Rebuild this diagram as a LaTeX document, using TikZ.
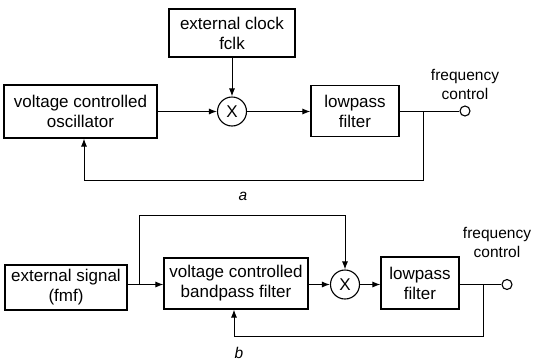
\documentclass[tikz,border=0pt]{standalone}
\usepackage{fontspec}
\setmainfont{Liberation Sans}
\usetikzlibrary{arrows.meta}
\begin{document}
\begin{tikzpicture}[x=1pt,y=-1pt,
  blk/.style={draw,line width=1.1pt,align=center,inner sep=0pt,font=\fontsize{17}{20}\selectfont},
  mix/.style={draw,circle,line width=1.1pt,minimum size=29pt,inner sep=0pt,font=\fontsize{17}{20}\selectfont},
  term/.style={draw,circle,line width=1.1pt,minimum size=10pt,inner sep=0pt,fill=white},
  lbl/.style={align=center,inner sep=0pt,font=\fontsize{15.5}{19}\selectfont},
  wire/.style={line width=1pt},
  arr/.style={wire,-{Latex[length=8pt,width=6pt]}}]
\useasboundingbox (0,0) rectangle (533,362);
% ---- a ----
\node[blk,minimum width=126pt,minimum height=48pt] (clk) at (232,33) {external clock\\fclk};
\node[blk,minimum width=153pt,minimum height=53pt] (vco) at (80.5,111.5) {voltage controlled\\oscillator};
\node[mix] (mixA) at (232,111.5) {X};
\node[blk,minimum width=88pt,minimum height=51pt] (lpA) at (355,111) {lowpass\\filter};
\node[term] (outA) at (465,111) {};
\node[lbl] (fA) at (465,84) {frequency\\control};
\coordinate (tapA) at (423,111);
\coordinate (fbA) at (423,180);
\node[font=\fontsize{15.5}{18}\selectfont\itshape] (la) at (243,196) {a};
\draw[arr] (clk.south) -- (mixA.north);
\draw[arr] (vco.east |- mixA) -- (mixA.west);
\draw[arr] (mixA.east) -- (lpA.west |- mixA);
\draw[wire] (lpA.east |- outA) -- (outA.west);
\draw[arr] (tapA) -- (fbA) -| ([xshift=3.5pt]vco.south);
% ---- b ----
\node[blk,minimum width=122pt,minimum height=45pt] (ext) at (66,287.5) {external signal\\(fmf)};
\node[blk,minimum width=144pt,minimum height=51pt] (vcbf) at (236,283.5) {voltage controlled\\bandpass filter};
\node[mix] (mixB) at (345,284.5) {X};
\node[blk,minimum width=78pt,minimum height=52pt] (lpB) at (420,283) {lowpass\\filter};
\node[term] (outB) at (507,284.5) {};
\node[lbl] (fB) at (497,242.5) {frequency\\control};
\coordinate (split) at (139,284.5);
\coordinate (topB) at (139,215);
\coordinate (tapB) at (483,284.5);
\coordinate (fbB) at (483,336);
\node[font=\fontsize{15.5}{18}\selectfont\itshape] (lb) at (239,353) {b};
\draw[wire] (ext.east |- split) -- (split);
\draw[arr] (split) -- (vcbf.west |- split);
\draw[arr] (split) -- (topB) -| (mixB.north);
\draw[arr] (vcbf.east |- mixB) -- (mixB.west);
\draw[arr] (mixB.east) -- (lpB.west |- mixB);
\draw[wire] (lpB.east |- outB) -- (outB.west);
\draw[arr] (tapB) -- (fbB) -| ([xshift=-2pt]vcbf.south);
\end{tikzpicture}
\end{document}
